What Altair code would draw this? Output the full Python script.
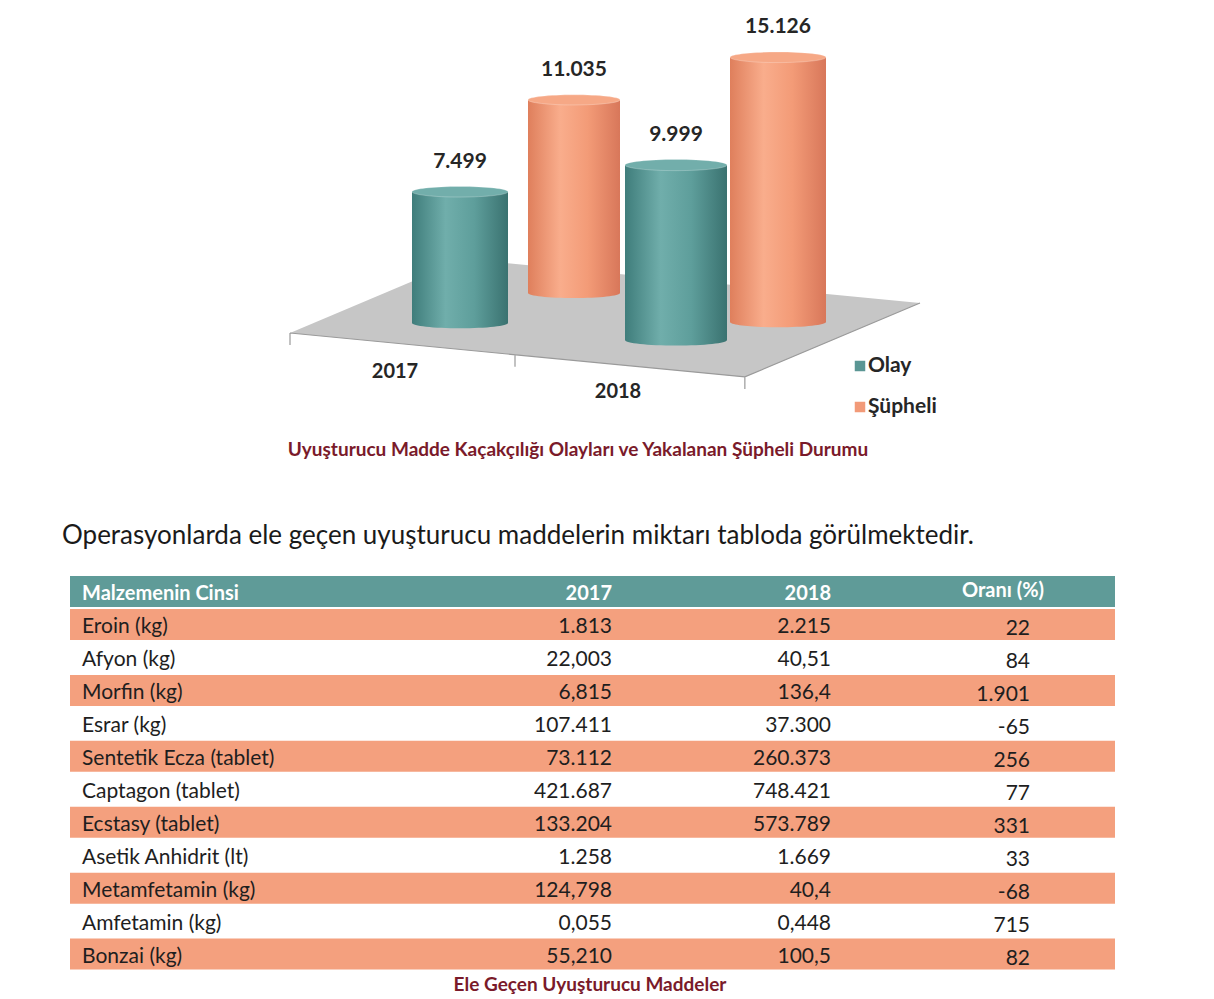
import altair as alt
import pandas as pd

# ---------------- data ----------------
years = ["2017", "2018"]
series = ["Olay", "Şüpheli"]
olay = [7499, 9999]
supheli = [11035, 15126]

chart_caption = "Uyuşturucu Madde Kaçakçılığı Olayları ve Yakalanan Şüpheli Durumu"
sentence = "Operasyonlarda ele geçen uyuşturucu maddelerin miktarı tabloda görülmektedir."

header = ["Malzemenin Cinsi", "2017", "2018", "Oranı (%)"]
materials = ["Eroin (kg)", "Afyon (kg)", "Morfin (kg)", "Esrar (kg)",
             "Sentetik Ecza (tablet)", "Captagon (tablet)", "Ecstasy (tablet)",
             "Asetik Anhidrit (lt)", "Metamfetamin (kg)", "Amfetamin (kg)", "Bonzai (kg)"]
col2017 = ["1.813", "22,003", "6,815", "107.411", "73.112", "421.687", "133.204",
           "1.258", "124,798", "0,055", "55,210"]
col2018 = ["2.215", "40,51", "136,4", "37.300", "260.373", "748.421", "573.789",
           "1.669", "40,4", "0,448", "100,5"]
oran = ["22", "84", "1.901", "-65", "256", "77", "331", "33", "-68", "715", "82"]
table_caption = "Ele Geçen Uyuşturucu Maddeler"

# ---------------- styles ----------------
FONT = "Lato"
TEAL = "#5f9b98"
ORANGE = "#f4a07e"
CAPTION_RED = "#7a1a2a"

def grad(stops):
    return alt.LinearGradient(gradient="linear", x1=0, x2=1, y1=0, y2=0,
                              stops=[alt.GradientStop(color=c, offset=o) for o, c in stops])

body_grad = {
    "Olay": grad([(0, "#3f7d7b"), (0.35, "#70aeab"), (0.65, "#5e9e9b"), (1, "#3a7270")]),
    "Şüpheli": grad([(0, "#df7f5c"), (0.35, "#f9ad8c"), (0.65, "#f39b77"), (1, "#d8775a")]),
}
top_fill = {"Olay": "#72aeab", "Şüpheli": "#f6a886"}
legend_fill = {"Olay": "#5a9694", "Şüpheli": "#f29a78"}

# per bar perspective tweaks: (xOffset px, yOffset px of base, width px)
bar_style = {
    "2017 Olay": (0, -35, 96),
    "2017 Şüpheli": (8, -65, 92),
    "2018 Olay": (4, -18, 102),
    "2018 Şüpheli": (0, -36, 96),
}
year_label_style = {"2017": (-65, 364), "2018": (-54, 384)}

ELLIPSE = "M -1 0 A 1 0.11 0 1 0 1 0 A 1 0.11 0 1 0 -1 0 Z"
FLOOR = "M -1 0.0476 L 0.444 0.187 L 1 -0.0476 L -0.444 -0.187 Z"
FLOOR_EDGE = ("M -1 0.0476 L 0.444 0.187 L 1 -0.0476 "
              "M -1 0.0476 L -1 0.0857 M -0.2857 0.1166 L -0.2857 0.1547 "
              "M 0.444 0.187 L 0.444 0.225")

# ---------------- 3D-like bar chart ----------------
rows_b = []
for i, y in enumerate(years):
    rows_b.append({"year": y, "series": "Olay", "value": olay[i]})
    rows_b.append({"year": y, "series": "Şüpheli", "value": supheli[i]})
bar_df = pd.DataFrame(rows_b)
bar_df["key"] = bar_df["year"] + " " + bar_df["series"]
keys = list(bar_df["key"])

xscale = alt.Scale(domain=keys, range=[399, 823], paddingInner=0, paddingOuter=0)
yscale = alt.Scale(domain=[0, 20000], range=[350, 0])
X = alt.X("key:N", scale=xscale, axis=None)

one = pd.DataFrame({"a": [0]})
layers = []

# floor
layers.append(alt.Chart(one).mark_point(shape=FLOOR, size=630 * 630, filled=True,
                                         fill="#c6c6c6", strokeWidth=0, opacity=1)
              .encode(x=alt.value(597), y=alt.value(310)))
layers.append(alt.Chart(one).mark_point(shape=FLOOR_EDGE, size=630 * 630, filled=False,
                                         stroke="#9a9a9a", strokeWidth=1.2, opacity=1)
              .encode(x=alt.value(597), y=alt.value(310)))

order = [k for k in keys if k.endswith("Şüpheli")] + [k for k in keys if k.endswith("Olay")]
for k in order:
    dx, dy, w = bar_style[k]
    s = k.split(" ", 1)[1]
    base = (alt.Chart(bar_df)
            .transform_filter(alt.datum.key == k)
            .transform_calculate(zero="0",
                                 label="replace(format(datum.value, ','), ',', '.')"))
    layers.append(base.mark_point(shape=ELLIPSE, size=w * w, filled=True, fill=body_grad[s],
                                  strokeWidth=0, opacity=1, xOffset=dx, yOffset=dy)
                  .encode(x=X, y=alt.Y("zero:Q", scale=yscale, axis=None)))
    layers.append(base.mark_bar(width=w, color=body_grad[s], xOffset=dx, yOffset=dy,
                                y2Offset=dy)
                  .encode(x=X, y=alt.Y("value:Q", scale=yscale, axis=None), y2="zero:Q"))
    layers.append(base.mark_point(shape=ELLIPSE, size=w * w, filled=True, fill=top_fill[s],
                                  stroke="#ffffff", strokeOpacity=0.3, strokeWidth=0.8,
                                  opacity=1, xOffset=dx, yOffset=dy)
                  .encode(x=X, y=alt.Y("value:Q", scale=yscale, axis=None)))
    layers.append(base.mark_text(baseline="bottom", font=FONT, fontSize=21, fontWeight="bold",
                                 color="#262626", xOffset=dx, yOffset=dy - 20)
                  .encode(x=X, y=alt.Y("value:Q", scale=yscale, axis=None), text="label:N"))

# year labels along the floor
for y in years:
    dx, ypos = year_label_style[y]
    layers.append(alt.Chart(bar_df)
                  .transform_filter((alt.datum.year == y) & (alt.datum.series == series[0]))
                  .mark_text(font=FONT, fontSize=20, fontWeight="bold", color="#262626",
                             xOffset=dx, baseline="middle")
                  .encode(x=X, y=alt.value(ypos), text="year:N"))

# legend
leg_df = pd.DataFrame({"series": series})
for j, s in enumerate(series):
    ypos = 358 + 41 * j
    sub = alt.Chart(leg_df).transform_filter(alt.datum.series == s)
    layers.append(sub.mark_square(size=110, color=legend_fill[s], opacity=1)
                  .encode(x=alt.value(852), y=alt.value(ypos)))
    layers.append(sub.mark_text(align="left", baseline="middle", font=FONT, fontSize=21,
                                fontWeight="bold", color="#262626")
                  .encode(x=alt.value(860), y=alt.value(ypos), text="series:N"))

# caption and sentence
layers.append(alt.Chart(pd.DataFrame({"t": [chart_caption]}))
              .mark_text(font=FONT, fontSize=19, fontWeight="bold", color=CAPTION_RED,
                         baseline="middle")
              .encode(x=alt.value(570), y=alt.value(442), text="t:N"))
layers.append(alt.Chart(pd.DataFrame({"t": [sentence]}))
              .mark_text(font=FONT, fontSize=26, color="#1a1a1a", align="left",
                         baseline="middle")
              .encode(x=alt.value(54), y=alt.value(528), text="t:N"))

top = alt.layer(*layers).properties(width=1198, height=560)

# ---------------- table ----------------
hdr_df = pd.DataFrame({"name": [header[0]], "c2017": [header[1]], "c2018": [header[2]],
                       "oran": [header[3]], "kind": ["header"]})
tbl_df = pd.DataFrame({"name": materials, "c2017": col2017, "c2018": col2018, "oran": oran})
tbl_df["kind"] = ["odd" if i % 2 == 0 else "even" for i in range(len(materials))]
all_df = pd.concat([hdr_df, tbl_df], ignore_index=True)

row_domain = [header[0]] + materials
tscale = alt.Scale(domain=row_domain, range=[8, 8 + 32.8 * len(row_domain)],
                   paddingInner=0.06, paddingOuter=0)
TY = alt.Y("name:N", scale=tscale, axis=None)

rects = (alt.Chart(all_df).mark_rect()
         .encode(y=TY, x=alt.value(62), x2=alt.value(1107),
                 color=alt.Color("kind:N", legend=None,
                                 scale=alt.Scale(domain=["header", "odd", "even"],
                                                 range=[TEAL, ORANGE, "#ffffff"]))))

def col_text(df, field, xpos, align, size, color, weight="normal", dy=0):
    return (alt.Chart(df).mark_text(align=align, baseline="middle", font=FONT, fontSize=size,
                                    color=color, fontWeight=weight, dy=dy)
            .encode(y=TY, x=alt.value(xpos), text=f"{field}:N"))

tlayers = [rects,
           col_text(hdr_df, "name", 74, "left", 20, "#ffffff", "bold", 3),
           col_text(hdr_df, "c2017", 604, "right", 20, "#ffffff", "bold", 3),
           col_text(hdr_df, "c2018", 823, "right", 20, "#ffffff", "bold", 3),
           col_text(hdr_df, "oran", 995, "center", 20, "#ffffff", "bold", 0),
           col_text(tbl_df, "name", 74, "left", 21, "#1e1e1e", dy=3),
           col_text(tbl_df, "c2017", 604, "right", 21, "#1e1e1e", dy=3),
           col_text(tbl_df, "c2018", 823, "right", 21, "#1e1e1e", dy=3),
           col_text(tbl_df, "oran", 1022, "right", 21, "#1e1e1e", dy=5),
           alt.Chart(pd.DataFrame({"t": [table_caption]}))
           .mark_text(font=FONT, fontSize=19, fontWeight="bold", color=CAPTION_RED,
                      baseline="middle")
           .encode(x=alt.value(582), y=alt.value(417), text="t:N")]

table = alt.layer(*tlayers).properties(width=1198, height=423)

chart = (alt.vconcat(top, table, spacing=0)
         .properties(padding=0, background="#ffffff")
         .configure_view(stroke=None))

chart.save("out.html", embed_options={"renderer": "svg", "actions": False})
